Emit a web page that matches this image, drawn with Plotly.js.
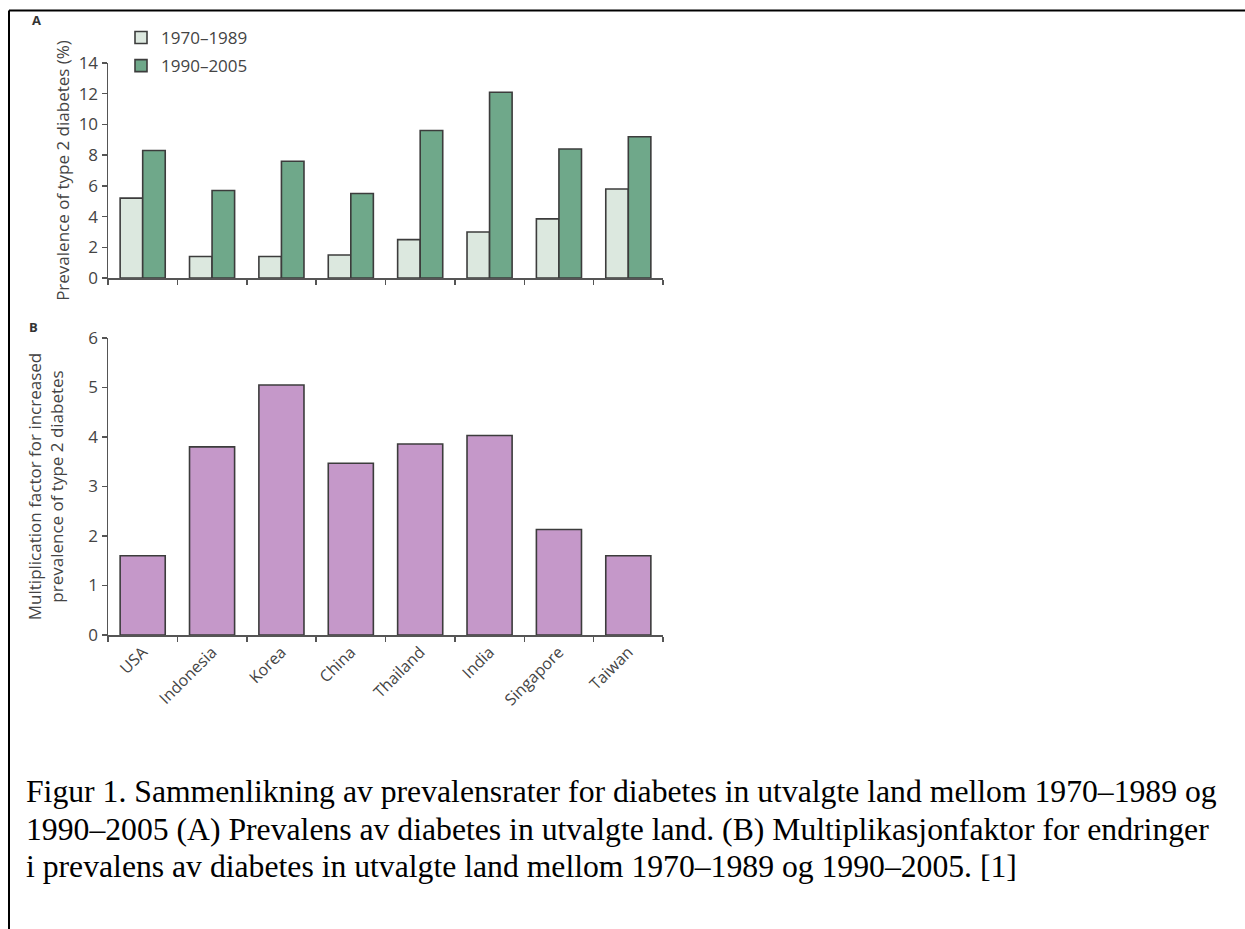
<!DOCTYPE html>
<html>
<head>
<meta charset="utf-8">
<script src="https://cdn.plot.ly/plotly-3.0.1.min.js"></script>
<style>
html,body{margin:0;padding:0;background:#fff;}
#chart{width:1245px;height:929px;}
</style>
</head>
<body>
<div id="chart"></div>
<script>
var countries = ["USA", "Indonesia", "Korea", "China", "Thailand", "India", "Singapore", "Taiwan"];
var prev1970_1989 = [5.2, 1.4, 1.4, 1.5, 2.5, 3.0, 3.85, 5.8];
var prev1990_2005 = [8.3, 5.7, 7.6, 5.5, 9.6, 12.1, 8.4, 9.2];
var multFactor = [1.6, 3.8, 5.05, 3.47, 3.86, 4.03, 2.13, 1.6];
var seriesNames = ["1970\u20131989", "1990\u20132005"];
var captionLines = [
  "Figur 1. Sammenlikning av prevalensrater for diabetes in utvalgte land mellom 1970\u20131989 og",
  "1990\u20132005 (A) Prevalens av diabetes in utvalgte land. (B) Multiplikasjonfaktor for endringer",
  "i prevalens av diabetes in utvalgte land mellom 1970\u20131989 og 1990\u20132005. [1]"
];

var W = 1245, H = 929;
function px(x){ return x / W; }
function py(y){ return 1 - y / H; }

var sansFont = "Open Sans, Noto Sans, sans-serif";
var txtColor = "#444444";
var axColor = "#555555";
var outline = {color: "#3c3c3c", width: 1.6};

var traces = [
  {type: "bar", x: countries, y: prev1970_1989, name: seriesNames[0], legendgroup: "a",
   xaxis: "x", yaxis: "y",
   marker: {color: "#dce8df", line: outline}},
  {type: "bar", x: countries, y: prev1990_2005, name: seriesNames[1], legendgroup: "b",
   xaxis: "x", yaxis: "y",
   marker: {color: "#6fa88a", line: outline}},
  {type: "bar", x: countries, y: multFactor, name: "Multiplication factor", showlegend: false,
   xaxis: "x2", yaxis: "y2",
   marker: {color: "#c598c9", line: outline}}
];

var axisCommon = {
  showgrid: false, zeroline: false, showline: true, linecolor: axColor, linewidth: 1.5,
  ticks: "outside", ticklen: 5, tickwidth: 1.5, tickcolor: axColor,
  tickfont: {family: sansFont, size: 17, color: txtColor}
};

var layout = {
  width: W, height: H,
  margin: {l: 0, r: 0, t: 0, b: 0},
  paper_bgcolor: "#ffffff", plot_bgcolor: "#ffffff",
  barmode: "group", bargap: 0.35, bargroupgap: 0,
  font: {family: sansFont, color: txtColor},
  showlegend: true,
  legend: {x: px(121), y: py(20), xanchor: "left", yanchor: "top",
           font: {family: sansFont, size: 17, color: txtColor},
           traceorder: "grouped", tracegroupgap: 3, bgcolor: "rgba(0,0,0,0)"},
  xaxis: Object.assign({}, axisCommon, {domain: [px(108), px(663)], anchor: "y",
           type: "category", tickson: "boundaries", showticklabels: false,
           range: [-0.5, 7.5]}),
  yaxis: Object.assign({}, axisCommon, {domain: [py(278), py(63)], anchor: "x",
           range: [0, 14], tickvals: [0, 2, 4, 6, 8, 10, 12, 14],
           title: {text: "Prevalence of type 2 diabetes (%)", standoff: 4,
                   font: {family: sansFont, size: 17, color: txtColor}}}),
  xaxis2: Object.assign({}, axisCommon, {domain: [px(108), px(663)], anchor: "y2",
           type: "category", tickson: "boundaries", tickangle: -45,
           tickfont: {family: sansFont, size: 16, color: txtColor},
           range: [-0.5, 7.5]}),
  yaxis2: Object.assign({}, axisCommon, {domain: [py(635), py(338)], anchor: "x2",
           range: [0, 6], tickvals: [0, 1, 2, 3, 4, 5, 6],
           title: {text: "Multiplication factor for increased<br>prevalence of type 2 diabetes", standoff: 20,
                   font: {family: sansFont, size: 17, color: txtColor}}}),
  shapes: [
    {type: "line", xref: "paper", yref: "paper", x0: px(9), x1: 1, y0: py(10.5), y1: py(10.5),
     line: {color: "#000", width: 2}},
    {type: "line", xref: "paper", yref: "paper", x0: px(9), x1: px(9), y0: py(10.5), y1: 0,
     line: {color: "#000", width: 2}}
  ],
  annotations: [
    {text: "<b>A</b>", xref: "paper", yref: "paper", x: px(36), y: py(20), xanchor: "center", yanchor: "middle",
     showarrow: false, font: {family: sansFont, size: 13, color: "#333"}},
    {text: "<b>B</b>", xref: "paper", yref: "paper", x: px(33), y: py(327), xanchor: "center", yanchor: "middle",
     showarrow: false, font: {family: sansFont, size: 13, color: "#333"}}
  ]
};

var captionY = [791, 829, 866];
captionLines.forEach(function(t, i){
  layout.annotations.push({text: t, xref: "paper", yref: "paper", x: px(24), y: py(captionY[i]),
    xanchor: "left", yanchor: "middle", showarrow: false, align: "left",
    font: {family: "Liberation Serif, Times New Roman, serif", size: 31.7, color: "#000"}});
});

Plotly.newPlot("chart", traces, layout, {staticPlot: true, displayModeBar: false});
</script>
</body>
</html>
